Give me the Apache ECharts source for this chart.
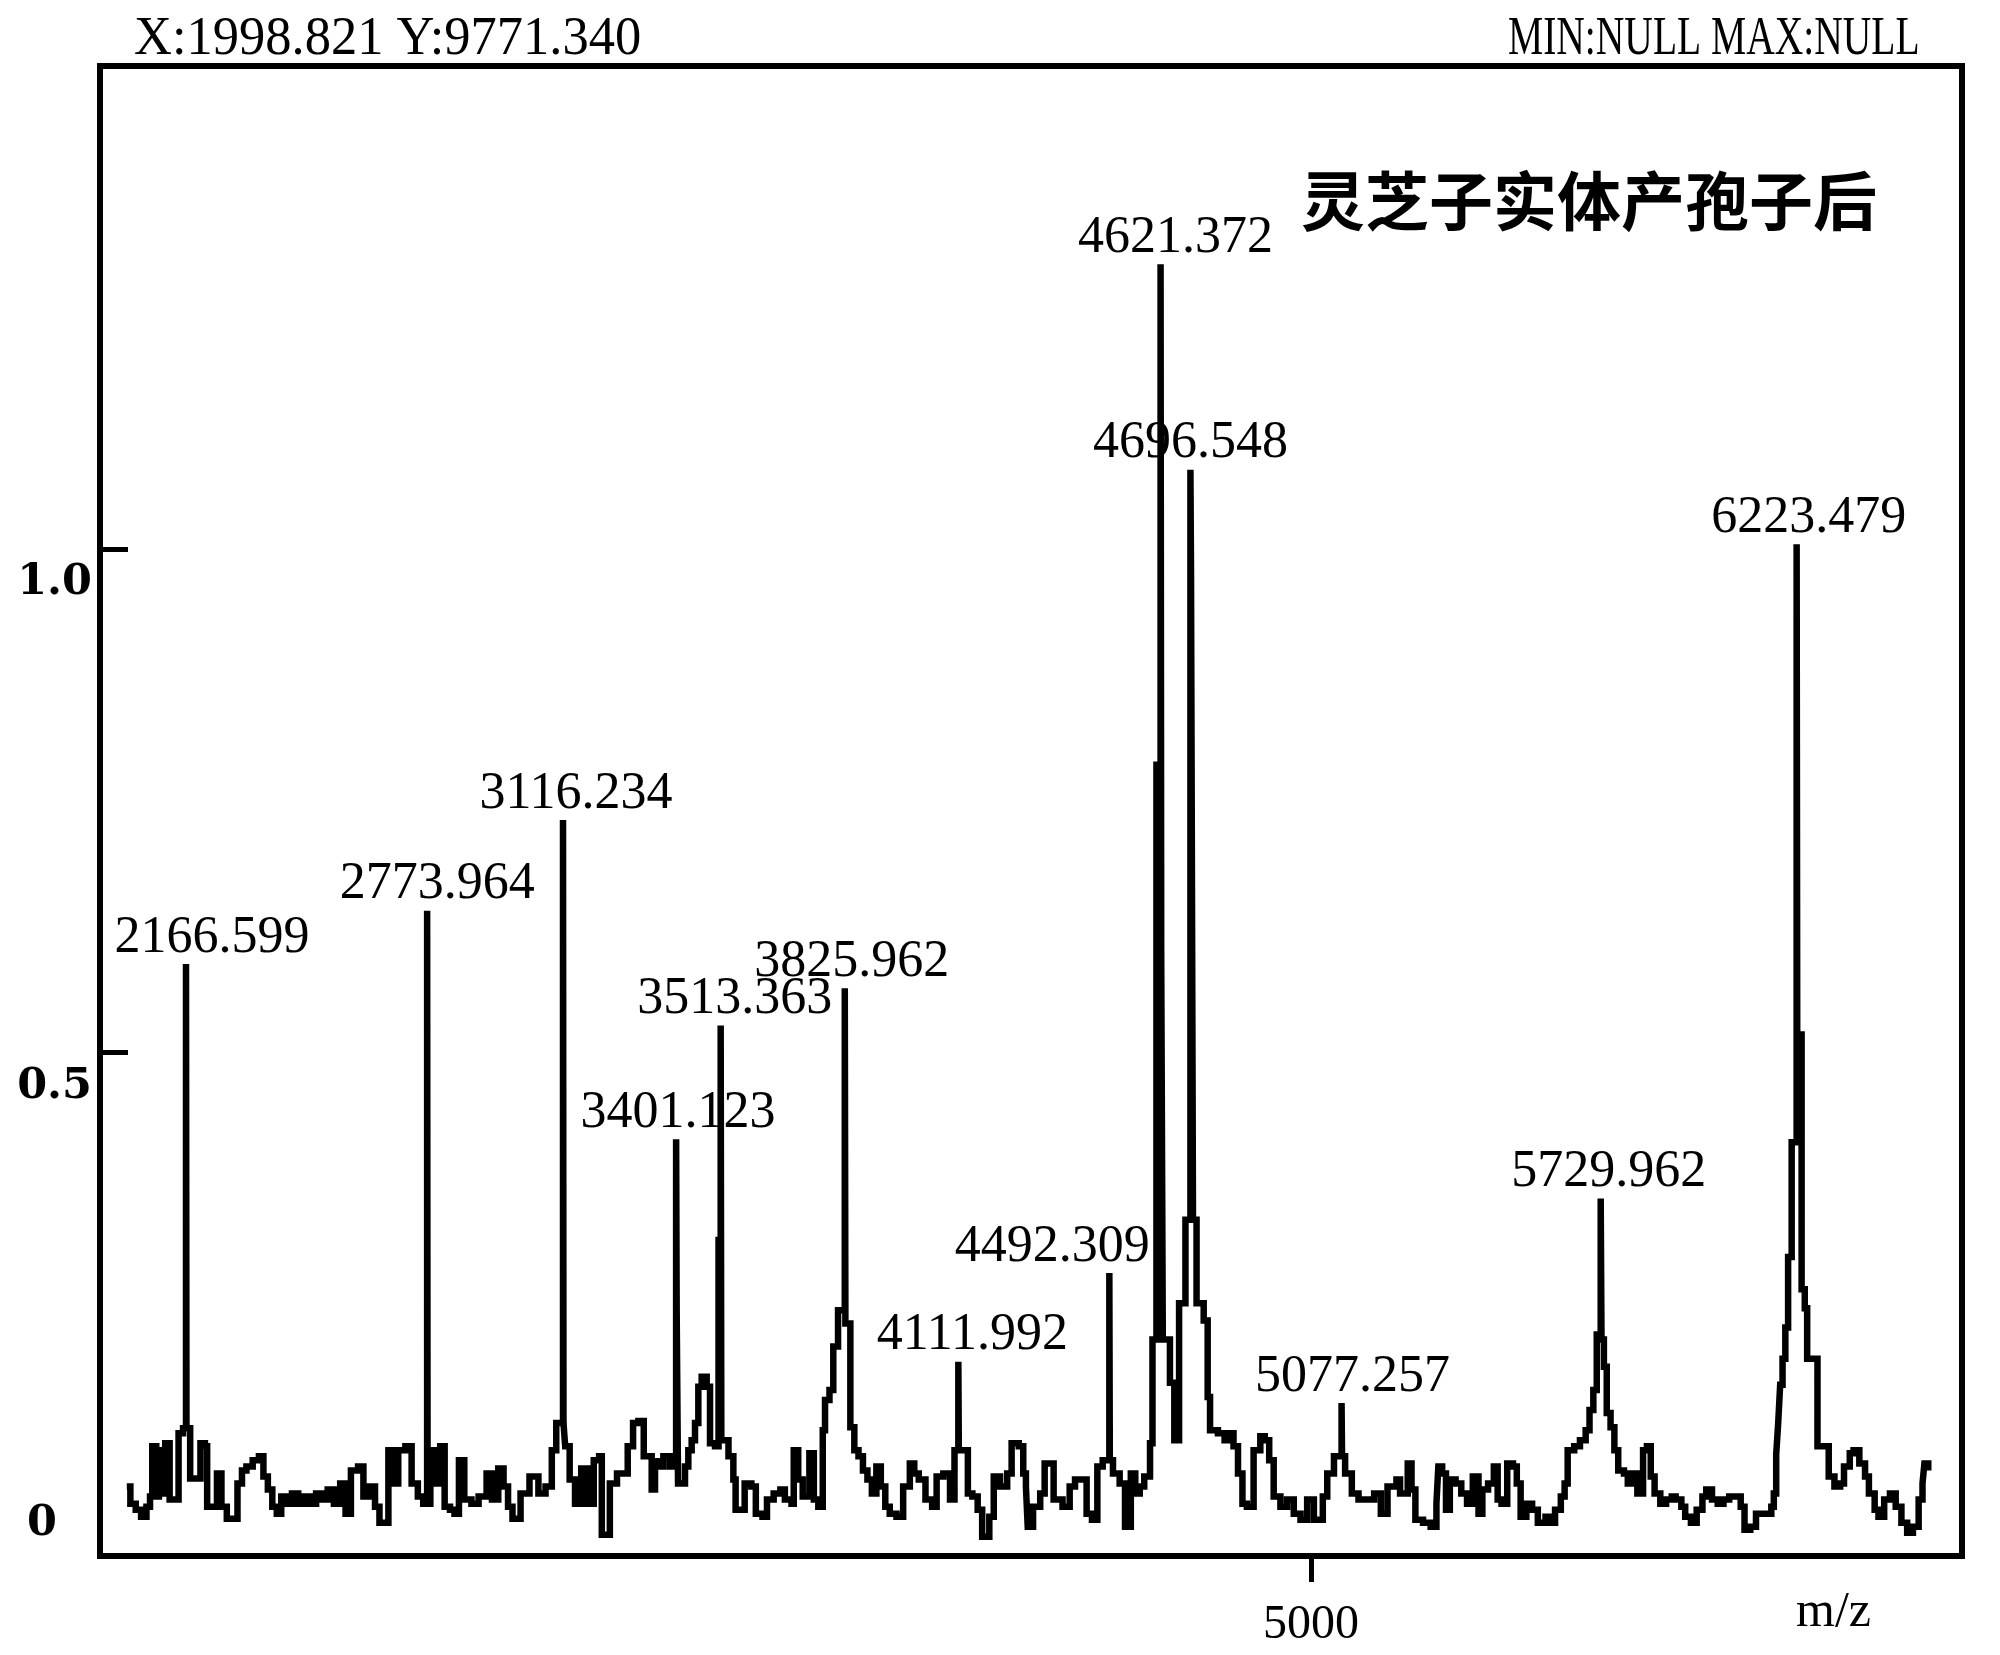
<!DOCTYPE html>
<html><head><meta charset="utf-8">
<script src="https://cdn.jsdelivr.net/npm/echarts@6/dist/echarts.min.js"></script>
<style>html,body{margin:0;padding:0;background:#fff}#c{width:2000px;height:1655px}</style>
</head><body><div id="c"></div>
<script>
// ---- data ----
const traceMz = [
2017.5,2026.5,2040,2053.5,2067,2076,2081.6,2091.7,2098.4,2107.4,2114.2,2125.4,2147.9,2159.2,
2177.1,2203,2214.3,2219.9,2244.6,2255.9,2269.4,2296.3,2307.6,2318.8,2334.6,2350.3,2361.6,2372.8,
2384,2395.3,2406.5,2417.8,2433.5,2449.3,2462.8,2478.5,2494.3,2510,2523.5,2539.2,2555,2568.5,
2582,2600,2613.5,2629.2,2642.7,2653.9,2676.4,2687.7,2701.2,2719.2,2734.9,2750.6,2764.1,
2782.1,2795.6,2806.9,2818.1,2831.6,2842.9,2854.1,2867.6,2885.6,2903.6,2923.8,2937.3,2953.1,
2966.5,2977.8,2989,3009.3,3031.8,3054.3,3072.2,3088,3099.2,
3121.7,3133,3146.5,3162.2,3178,3193.7,3207.2,3213.9,3234.2,3252.2,3279.2,3292.7,3306.1,3319.6,
3339.6,3348,3356.4,3369,3385.7,3402.5,3406,3423.5,3431.9,3440.3,3448.7,3457.1,3465.5,3478.1,
3486.5,3499.1,3508,3515,3533,3545.3,3551,3573.8,3590.6,3601.9,3618.7,3630,3646.8,3663.7,
3675,3691.8,3697.4,3708.7,3720,3736.8,3748,3759.3,3770.5,3776.2,3787.4,3797,3809,
3827.5,3840,3850,3860.5,3871.7,3883,3894.2,3905.5,3916.7,3928,3939.2,3956.1,3973,3989.8,
4001,4012.3,4029.2,4046,4057.3,4074.2,4091,4102.3,
4136,4147.3,4160.7,4172,4190,4201.2,4217,4235,4246.2,4264.2,4275.5,4282.2,4286.7,4300.2,
4318.2,4329.4,4352,4374.4,4392.4,4405.9,4435.1,4448.6,4462.1,4475.6,
4501.5,4518.3,4531.8,4546.4,4557.7,4568.9,4580.2,4594.8,4601,4611,
4623,4627,4645,4656,4668,4684,
4698,4703,4712,4730,4740,4746,4765.8,4782.6,4793.9,4805.1,4816.4,4827.6,4838.8,4855.7,
4872.6,4883.8,4895,4906.3,4923.2,4940,4956.9,4973.8,4990.6,5007.5,5030,5041.2,5058.1,
5086.2,5103.1,5119.9,5159.3,5176.2,5193,5215.5,5224.6,5243.9,5253.5,5263.2,5282.4,5301.7,
5316.2,5321,5330.6,5340.3,5349.9,5364.4,5378.8,5393.3,5407.8,5422.2,5431.9,5446.3,5460.8,
5470.4,5480.1,5494.5,5509,5518.6,5528.3,5542.7,5557.2,5571.6,5590.9,5605.4,5615,5629.5,
5639.1,5646.8,5663.2,5677.7,5692.1,5701.8,5711.4,5720,
5732,5738,5745.2,5754.8,5764.4,5774.1,5788.5,5798.2,5812.6,5822.3,5836.7,5846.4,5856,
5865.7,5880.1,5894.6,5909,5918.7,5933.1,5942.8,5957.2,5971.7,5986.2,5995.8,6010.3,6024.7,
6039.2,6053.6,6082.6,6092.2,6106.7,6121.1,6159.7,6166,6172,6177,6182,6188,6195,6202,6211,
6225,6236,6244,6250,6276,6304.3,6318.7,6333.2,6342.8,6357.3,6366.9,6381.4,6395.8,6405.5,
6420,6429.6,6444,6458.5,6473,6487.4,6501.9,6516.4,6530.8,6540.5,6545.3,6555
];
const traceIntensity = [
0.069,0.052,0.046,0.039,0.049,0.059,0.109,0.059,0.105,0.062,0.112,0.056,0.122,0.127,
0.077,0.112,0.109,0.049,0.082,0.049,0.037,0.072,0.085,0.089,0.095,0.099,0.079,0.066,
0.049,0.042,0.059,0.052,0.062,0.052,0.059,0.052,0.062,0.056,0.066,0.052,0.072,0.042,
0.085,0.089,0.059,0.069,0.049,0.033,0.105,0.072,0.105,0.109,0.072,0.059,0.052,
0.105,0.072,0.109,0.049,0.046,0.042,0.095,0.056,0.052,0.059,0.082,0.056,0.087,
0.069,0.049,0.037,0.062,0.079,0.062,0.069,0.105,0.132,
0.109,0.076,0.052,0.087,0.052,0.095,0.099,0.021,0.072,0.082,0.109,0.132,0.134,0.099,
0.066,0.094,0.089,0.099,0.089,0.244,0.072,0.089,0.105,0.115,0.132,0.168,0.178,0.168,
0.112,0.109,0.314,0.115,0.099,0.076,0.046,0.072,0.069,0.042,0.039,0.056,0.062,0.066,
0.056,0.052,0.105,0.076,0.059,0.102,0.056,0.049,0.125,0.155,0.165,0.208,0.244,
0.231,0.128,0.105,0.099,0.085,0.076,0.062,0.089,0.069,0.049,0.042,0.039,0.069,0.092,
0.082,0.076,0.056,0.049,0.079,0.082,0.056,0.105,
0.062,0.059,0.046,0.019,0.039,0.079,0.069,0.082,0.112,0.109,0.082,0.069,0.029,0.049,
0.062,0.092,0.056,0.049,0.069,0.076,0.042,0.036,0.089,0.095,
0.082,0.072,0.029,0.082,0.062,0.069,0.079,0.112,0.215,0.786,
0.595,0.215,0.172,0.115,0.251,0.334,
0.979,0.334,0.251,0.234,0.158,0.125,0.122,0.115,0.122,0.109,0.082,0.052,0.049,0.105,
0.119,0.115,0.095,0.059,0.049,0.056,0.042,0.036,0.056,0.036,0.059,0.082,0.099,
0.082,0.062,0.056,0.062,0.042,0.069,0.076,0.062,0.092,0.066,0.036,0.033,0.029,
0.052,0.089,0.082,0.046,0.076,0.072,0.062,0.052,0.079,0.042,0.066,0.072,0.089,
0.056,0.052,0.092,0.089,0.072,0.039,0.052,0.046,0.033,0.039,0.033,0.046,0.059,
0.072,0.105,0.109,0.115,0.125,0.145,0.165,0.22,
0.215,0.188,0.142,0.128,0.105,0.085,0.082,0.072,0.082,0.062,0.105,0.109,0.079,
0.062,0.052,0.056,0.059,0.056,0.049,0.039,0.033,0.046,0.059,0.066,0.056,0.052,
0.056,0.059,0.049,0.026,0.029,0.042,0.049,0.062,0.101,0.132,0.170,0.196,0.227,0.297,0.411,
0.518,0.265,0.246,0.196,0.109,0.079,0.069,0.072,0.089,0.102,0.105,0.092,0.079,0.062,
0.046,0.039,0.056,0.062,0.049,0.033,0.023,0.029,0.056,0.072,0.092,0.085
];
const peakMz = [2166.599,2773.964,3116.234,3401.123,3513.363,3825.962,4111.992,4492.309,4621.372,4696.548,5077.257,5729.962,6223.479];
const peakIntensity = [0.588,0.641,0.731,0.414,0.527,0.564,0.193,0.281,1.283,1.079,0.152,0.355,1.005];
const peakLabels = ['2166.599','2773.964','3116.234','3401.123','3513.363','3825.962','4111.992','4492.309','4621.372','4696.548','5077.257','5729.962','6223.479'];
const yTickValues = [0, 0.5, 1];
const yTickLabels = ['0', '0.5', '1.0'];
const xTickValues = [5000];
const xTickLabels = ['5000'];
const xAxisName = 'm/z';
const chartTitle = '灵芝子实体产孢子后';
const headerLeft = 'X:1998.821 Y:9771.340';
const headerRight = 'MIN:NULL MAX:NULL';

// ---- layout (not data) ----
const labelShiftX = [26,10,13,2,14,7,14,-57,15,0,11,8,12];

// merge peaks into the trace
const pts = traceMz.map((m, i) => [m, traceIntensity[i]]);
peakMz.forEach((m, k) => {
  let idx = pts.findIndex(p => p[0] > m);
  if (idx < 0) idx = pts.length;
  const prev = idx > 0 ? pts[idx - 1][1] : 0;
  const next = pts[idx];
  const ins = [[m, peakIntensity[k]]];
  if (!next || next[0] - m > 3) ins.push([m + 1.2, prev]);
  pts.splice(idx, 0, ...ins);
});

const chart = echarts.init(document.getElementById('c'), null, {renderer: 'canvas'});
const serif = 'Liberation Serif';
chart.setOption({
  animation: false,
  backgroundColor: '#ffffff',
  title: {
    text: chartTitle, left: 1301, top: 169, padding: 0,
    textStyle: {fontFamily: 'Noto Sans CJK SC', fontSize: 64, fontWeight: 'bold', color: '#000'}
  },
  graphic: [
    {type: 'text', x: 134, y: 12, scaleX: 1.01, scaleY: 1.06, style: {text: headerLeft, font: '52px "Liberation Serif"', fill: '#000'}},
    {type: 'text', x: 1508, y: 12, scaleX: 0.76, scaleY: 1.06, style: {text: headerRight, font: '52px "Liberation Serif"', fill: '#000'}},
    {type: 'text', x: 1796, y: 1588, style: {text: xAxisName, font: '50px "Liberation Serif"', fill: '#000'}}
  ],
  grid: {left: 100, right: 38, top: 66, bottom: 99, show: true, borderColor: '#000', borderWidth: 6, backgroundColor: 'transparent'},
  xAxis: {
    type: 'value', min: 1950, max: 6640,
    axisLine: {show: false}, splitLine: {show: false},
    axisTick: {show: true, customValues: xTickValues, length: 26, lineStyle: {color: '#000', width: 5}},
    axisLabel: {customValues: xTickValues, margin: 45, fontFamily: serif, fontSize: 48, color: '#000',
      formatter: v => xTickLabels[xTickValues.indexOf(v)] || ''}
  },
  yAxis: {
    type: 'value', min: 0, max: 1.48,
    axisLine: {show: false}, splitLine: {show: false},
    axisTick: {show: true, inside: true, customValues: [0.5, 1], length: 28, lineStyle: {color: '#000', width: 5}},
    axisLabel: {
      customValues: yTickValues, margin: 8,
      formatter: v => {
        const i = yTickValues.indexOf(v);
        if (i < 0) return '';
        return (v === 0 ? '{z|' : '{a|') + yTickLabels[i] + '}';
      },
      rich: {
        a: {fontFamily: 'DejaVu Serif', fontWeight: 'bold', fontSize: 43, color: '#000', padding: [68, 0, 0, 0]},
        z: {fontFamily: 'DejaVu Serif', fontWeight: 'bold', fontSize: 43, color: '#000', padding: [0, 35, 64, 0]}
      }
    }
  },
  series: [
    {
      type: 'line', data: pts, step: 'end', showSymbol: false, symbol: 'none', silent: true, z: 3,
      lineStyle: {color: '#000', width: 6.5, join: 'miter', cap: 'butt'}
    },
    {
      type: 'scatter', symbolSize: 0, silent: true, z: 5,
      itemStyle: {opacity: 1},
      data: peakMz.map((m, i) => ({value: [m, peakIntensity[i]], label: {offset: [labelShiftX[i], 0]}})),
      label: {show: true, position: 'top', distance: 0, fontFamily: serif, fontSize: 52, color: '#000', opacity: 1,
        formatter: p => peakLabels[p.dataIndex]}
    }
  ]
});
</script>
</body></html>
